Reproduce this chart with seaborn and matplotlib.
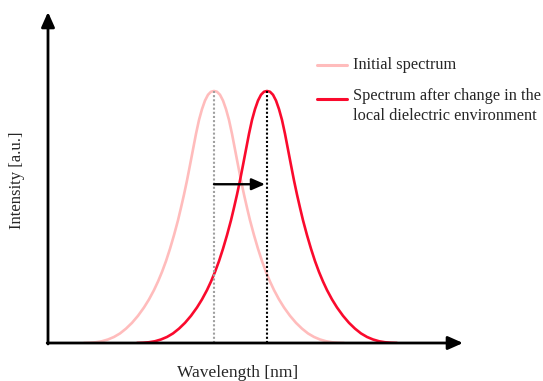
# -*- coding: utf-8 -*-
# LSPR shift sketch: initial vs. shifted spectrum

import numpy as np
import pandas as pd
from matplotlib import pyplot as plt
from matplotlib.lines import Line2D
import seaborn as sns

sns.set_style('white')
plt.rcParams['font.family'] = ['Liberation Serif', 'DejaVu Serif']

# half line shape: distance from peak (arb. units) -> normalised intensity
offset = [0, 3, 6, 9, 12, 15, 18, 21, 24, 27, 30, 33, 36, 40, 44, 48, 52, 56, 60, 65,
          70, 76, 82, 88, 94, 100, 106, 112, 118, 124, 130]
profile = [1.0, .997, .985, .962, .928, .885, .83, .768, .706, .645, .589, .537, .487, .428, .374,
           .325, .282, .244, .21, .173, .141, .108, .08, .057, .038, .024, .014, .007, .003, .001, 0]
peak_initial = 166
peak_shifted = 219
arrow_level = 0.63

labels = ['Initial spectrum', 'Spectrum after change in the\nlocal dielectric environment']
colors = ['#ffbcbc', '#fa0a2d']

off = np.array(offset, dtype=float)
prof = np.array(profile)
full_off = np.concatenate([-off[::-1], off[1:]])
full_prof = np.concatenate([prof[::-1], prof[1:]])

df = pd.concat([
    pd.DataFrame({'wl': peak_initial + full_off, 'I': full_prof, 'spec': labels[0]}),
    pd.DataFrame({'wl': peak_shifted + full_off, 'I': full_prof, 'spec': labels[1]}),
])

fig = plt.figure(figsize=(5.43, 3.81), dpi=100)
ax = fig.add_axes([48 / 543, 38 / 381, 415 / 543, 331 / 381])

sns.lineplot(data=df, x='wl', y='I', hue='spec', palette=colors, sort=False,
             linewidth=1.9, ax=ax, legend=False)

# peak markers
ax.plot([peak_initial, peak_initial], [0, 1], color='#a0a0a0', lw=1.5, ls=(0, (1, 1)))
ax.plot([peak_shifted, peak_shifted], [0, 1], color='black', lw=1.5, ls=(0, (1, 1)))

# shift arrow
ax.annotate('', xy=(peak_shifted - 2, arrow_level), xytext=(peak_initial, arrow_level),
            arrowprops=dict(arrowstyle='-|>,head_length=0.8,head_width=0.35', lw=1.7,
                            color='black', shrinkA=0, shrinkB=0))

ax.set_xlim(0, 415)
ax.set_ylim(0, 331 / 252)
ax.set_xticks([])
ax.set_yticks([])
for s in ax.spines.values():
    s.set_visible(False)
ax.set_xlabel('')
ax.set_ylabel('')

# axes with arrow heads
arr = dict(arrowstyle='-|>,head_length=0.9,head_width=0.4', lw=2, color='black', shrinkA=0, shrinkB=0)
ax.annotate('', xy=(1, 0), xytext=(-0.002, 0), xycoords='axes fraction', arrowprops=arr)
ax.annotate('', xy=(0, 1), xytext=(0, -0.003), xycoords='axes fraction', arrowprops=arr)

fig.text(238 / 543, 1 - 373 / 381, 'Wavelength [nm]', ha='center', va='center', fontsize=12.5)
fig.text(17 / 543, 1 - 180 / 381, 'Intensity [a.u.]', ha='center', va='center', fontsize=12, rotation=90)

# legend drawn by hand so the handle sits at the first text line
W, H = 543, 381
for c, y in zip(colors, [65, 99]):
    fig.add_artist(Line2D([317 / W, 347 / W], [1 - y / H, 1 - y / H], color=c, lw=2.2))
fig.text(353 / W, 1 - 65 / H, labels[0], ha='left', va='center', fontsize=11.75)
fig.text(353 / W, 1 - 106 / H, labels[1], ha='left', va='center', fontsize=11.75, linespacing=1.32)

fig.savefig('out.png', dpi=100)
